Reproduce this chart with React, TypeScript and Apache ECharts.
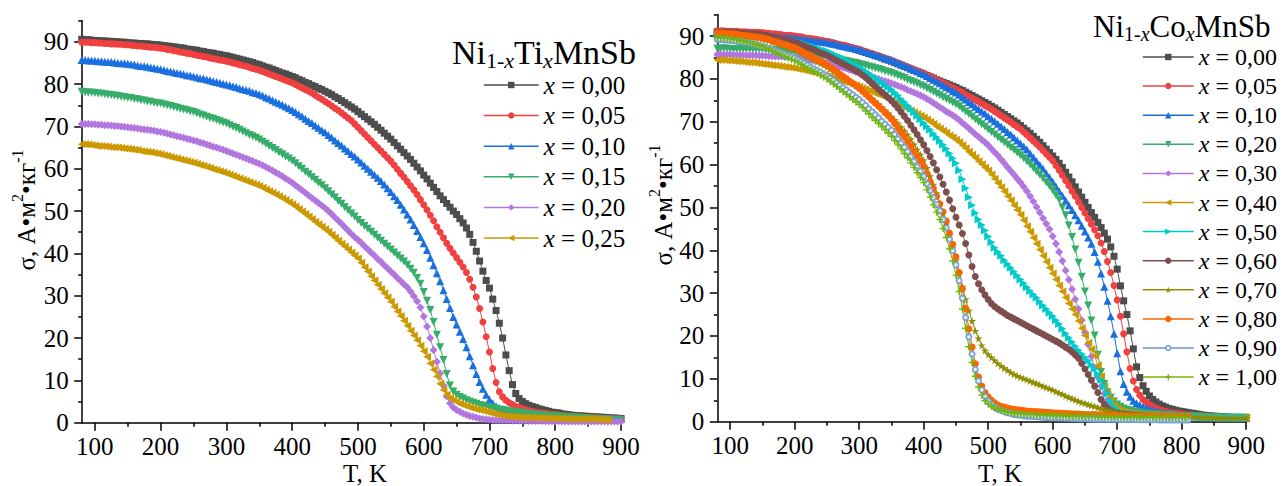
import { useEffect, useRef } from 'react';
import * as echarts from 'echarts';

const FONT = "'Liberation Serif', 'Times New Roman', serif";

// Temperature grid shared by every curve (K)
const TEMPS = [
  80, 85, 90, 95, 100,
  105, 110, 115, 120, 125, 130, 135, 140, 145, 150,
  155, 160, 165, 170, 175, 180, 185, 190, 195, 200,
  205, 210, 215, 220, 225, 230, 235, 240, 245, 250,
  255, 260, 265, 270, 275, 280, 285, 290, 295, 300,
  305, 310, 315, 320, 325, 330, 335, 340, 345, 350,
  355, 360, 365, 370, 375, 380, 385, 390, 395, 400,
  405, 410, 415, 420, 425, 430, 435, 440, 445, 450,
  455, 460, 465, 470, 475, 480, 485, 490, 495, 500,
  505, 510, 515, 520, 525, 530, 535, 540, 545, 550,
  555, 560, 565, 570, 575, 580, 585, 590, 595, 600,
  605, 610, 615, 620, 625, 630, 635, 640, 645, 650,
  655, 660, 665, 670, 675, 680, 685, 690, 695, 700,
  705, 710, 715, 720, 725, 730, 735, 740, 745, 750,
  755, 760, 765, 770, 775, 780, 785, 790, 795, 800,
  805, 810, 815, 820, 825, 830, 835, 840, 845, 850,
  855, 860, 865, 870, 875, 880, 885, 890, 895, 900,
];

const X_MAJOR = [100, 200, 300, 400, 500, 600, 700, 800, 900];
const X_MINOR = [150, 250, 350, 450, 550, 650, 750, 850];
const Y_MAJOR = [0, 10, 20, 30, 40, 50, 60, 70, 80, 90];
const Y_MINOR = [5, 15, 25, 35, 45, 55, 65, 75, 85, 95];

const TI_LABELS = ['0,00', '0,05', '0,10', '0,15', '0,20', '0,25'];
const CO_LABELS = ['0,00', '0,05', '0,10', '0,20', '0,30', '0,40', '0,50', '0,60', '0,70', '0,80', '0,90', '1,00'];

// Ni(1-x)Ti(x)MnSb, sigma in A*m^2/kg
const TI_000 = [
  90.6, 90.5, 90.5, 90.4, 90.3,
  90.3, 90.2, 90.2, 90.1, 90.1, 90.0, 90.0, 89.9, 89.9, 89.8,
  89.7, 89.7, 89.6, 89.6, 89.5, 89.5, 89.4, 89.3, 89.3, 89.2,
  89.1, 89.0, 88.9, 88.8, 88.7, 88.6, 88.5, 88.3, 88.2, 88.1,
  88.0, 87.8, 87.7, 87.5, 87.4, 87.3, 87.1, 87.0, 86.8, 86.7,
  86.5, 86.3, 86.1, 85.9, 85.7, 85.5, 85.3, 85.1, 84.8, 84.6,
  84.3, 84.0, 83.8, 83.5, 83.2, 82.9, 82.6, 82.4, 82.1, 81.8,
  81.5, 81.1, 80.8, 80.4, 80.1, 79.7, 79.4, 79.0, 78.7, 78.3,
  77.9, 77.5, 77.0, 76.6, 76.1, 75.6, 75.1, 74.6, 74.1, 73.5,
  72.9, 72.3, 71.7, 71.1, 70.5, 69.8, 69.1, 68.4, 67.7, 67.0,
  66.2, 65.4, 64.6, 63.8, 63.0, 62.2, 61.3, 60.4, 59.5, 58.5,
  57.6, 56.6, 55.6, 54.6, 53.6, 52.7, 51.8, 50.9, 50.0, 49.2,
  48.2, 47.2, 46.0, 44.5, 42.6, 40.5, 38.2, 35.8, 33.6, 31.8,
  29.2, 26.5, 23.5, 20.0, 16.0, 12.3, 9.0, 6.9, 5.7, 5.0,
  4.5, 4.1, 3.8, 3.6, 3.3, 3.1, 2.9, 2.7, 2.5, 2.4,
  2.3, 2.1, 2.0, 1.9, 1.8, 1.7, 1.65, 1.6, 1.55, 1.5,
  1.45, 1.4, 1.35, 1.3, 1.25, 1.2, 1.15, 1.1, 1.05, 1.0,
];
const TI_005 = [
  89.9, 89.9, 89.9, 89.8, 89.8,
  89.7, 89.7, 89.6, 89.6, 89.5, 89.5, 89.4, 89.4, 89.3, 89.3,
  89.2, 89.1, 89.0, 89.0, 88.9, 88.8, 88.7, 88.7, 88.6, 88.5,
  88.4, 88.2, 88.1, 87.9, 87.8, 87.6, 87.5, 87.3, 87.2, 87.0,
  86.8, 86.7, 86.5, 86.4, 86.2, 86.0, 85.9, 85.7, 85.6, 85.4,
  85.2, 85.0, 84.8, 84.6, 84.4, 84.2, 84.0, 83.7, 83.5, 83.3,
  83.0, 82.7, 82.4, 82.1, 81.8, 81.5, 81.2, 80.9, 80.6, 80.3,
  79.9, 79.5, 79.1, 78.7, 78.3, 77.9, 77.4, 76.9, 76.4, 75.9,
  75.4, 74.9, 74.3, 73.8, 73.2, 72.6, 72.0, 71.4, 70.6, 69.8,
  69.0, 68.2, 67.4, 66.6, 65.8, 65.0, 64.2, 63.4, 62.6, 61.8,
  60.9, 59.9, 58.9, 58.0, 57.0, 56.0, 55.0, 53.9, 52.7, 51.5,
  50.3, 49.0, 47.7, 46.3, 45.0, 43.7, 42.4, 41.2, 40.1, 39.0,
  37.9, 36.8, 35.5, 33.9, 32.0, 29.7, 27.0, 23.8, 20.3, 16.7,
  12.8, 9.5, 7.3, 6.1, 5.3, 4.7, 4.3, 3.9, 3.6, 3.3,
  3.1, 2.9, 2.7, 2.5, 2.4, 2.3, 2.2, 2.1, 2.0, 1.9,
  1.8, 1.7, 1.65, 1.6, 1.55, 1.5, 1.45, 1.4, 1.35, 1.3,
  1.25, 1.2, 1.15, 1.1, 1.05, 1.0, 1.0, 0.95, 0.95, 0.9,
];
const TI_010 = [
  85.7, 85.7, 85.6, 85.6, 85.5,
  85.4, 85.4, 85.3, 85.2, 85.2, 85.1, 85.0, 84.9, 84.9, 84.8,
  84.7, 84.6, 84.4, 84.3, 84.2, 84.1, 83.9, 83.8, 83.6, 83.5,
  83.3, 83.1, 83.0, 82.8, 82.6, 82.5, 82.3, 82.1, 82.0, 81.8,
  81.6, 81.4, 81.3, 81.1, 80.9, 80.7, 80.5, 80.3, 80.1, 79.9,
  79.7, 79.5, 79.3, 79.0, 78.8, 78.6, 78.4, 78.1, 77.9, 77.6,
  77.3, 76.9, 76.6, 76.2, 75.8, 75.5, 75.1, 74.7, 74.3, 73.9,
  73.4, 72.9, 72.4, 71.8, 71.3, 70.8, 70.2, 69.7, 69.1, 68.6,
  68.0, 67.4, 66.7, 66.1, 65.5, 64.8, 64.2, 63.5, 62.9, 62.2,
  61.5, 60.7, 60.0, 59.3, 58.6, 57.9, 57.1, 56.3, 55.4, 54.5,
  53.5, 52.6, 51.5, 50.4, 49.2, 48.0, 46.7, 45.3, 43.9, 42.4,
  40.8, 39.0, 37.2, 35.3, 33.4, 31.3, 29.2, 27.1, 25.0, 23.2,
  21.5, 19.8, 17.8, 15.7, 13.6, 11.5, 9.6, 8.0, 6.6, 5.5,
  4.6, 3.9, 3.4, 3.0, 2.7, 2.5, 2.4, 2.2, 2.1, 2.0,
  1.95, 1.9, 1.85, 1.8, 1.7, 1.65, 1.6, 1.55, 1.5, 1.45,
  1.4, 1.4, 1.35, 1.3, 1.3, 1.25, 1.2, 1.2, 1.15, 1.1,
  1.1, 1.05, 1.05, 1.0, 1.0, 0.95, 0.95, 0.9, 0.9, 0.9,
];
const TI_015 = [
  78.2, 78.1, 78.0, 78.0, 77.9,
  77.8, 77.7, 77.6, 77.5, 77.4, 77.3, 77.2, 77.0, 76.9, 76.8,
  76.7, 76.5, 76.4, 76.2, 76.1, 75.9, 75.8, 75.6, 75.5, 75.4,
  75.2, 75.0, 74.8, 74.6, 74.4, 74.2, 74.0, 73.8, 73.6, 73.4,
  73.1, 72.8, 72.6, 72.3, 72.0, 71.8, 71.5, 71.2, 70.9, 70.7,
  70.3, 69.9, 69.6, 69.2, 68.8, 68.4, 68.0, 67.7, 67.3, 66.9,
  66.4, 65.9, 65.4, 64.9, 64.4, 63.9, 63.4, 62.9, 62.4, 61.9,
  61.3, 60.6, 60.0, 59.3, 58.7, 58.0, 57.4, 56.7, 56.1, 55.4,
  54.7, 53.9, 53.2, 52.4, 51.7, 50.9, 50.2, 49.4, 48.7, 47.9,
  47.2, 46.5, 45.8, 45.1, 44.4, 43.7, 43.0, 42.3, 41.6, 40.9,
  40.2, 39.5, 38.8, 38.1, 37.3, 36.4, 35.4, 34.2, 32.8, 30.9,
  28.8, 26.6, 23.8, 20.8, 17.8, 14.8, 11.5, 8.8, 7.4, 6.6,
  6.1, 5.7, 5.3, 5.0, 4.7, 4.5, 4.2, 4.0, 3.8, 3.6,
  3.5, 3.3, 3.1, 3.0, 2.8, 2.7, 2.6, 2.5, 2.4, 2.3,
  2.2, 2.1, 2.0, 1.9, 1.8, 1.8, 1.7, 1.6, 1.6, 1.5,
  1.45, 1.4, 1.35, 1.3, 1.25, 1.2, 1.15, 1.1, 1.05, 1.0,
  0.95, 0.9, 0.85, 0.8, 0.8, 0.75, 0.7, 0.7, 0.65, 0.6,
];
const TI_020 = [
  70.6, 70.6, 70.6, 70.5, 70.5,
  70.4, 70.4, 70.3, 70.3, 70.2, 70.1, 70.1, 70.0, 69.9, 69.8,
  69.7, 69.6, 69.5, 69.4, 69.3, 69.2, 69.1, 69.0, 68.8, 68.7,
  68.5, 68.3, 68.1, 67.9, 67.7, 67.5, 67.3, 67.1, 66.9, 66.7,
  66.5, 66.2, 66.0, 65.7, 65.5, 65.2, 65.0, 64.7, 64.5, 64.2,
  63.9, 63.6, 63.3, 63.0, 62.7, 62.4, 62.1, 61.8, 61.5, 61.2,
  60.8, 60.4, 60.0, 59.6, 59.1, 58.7, 58.2, 57.7, 57.2, 56.7,
  56.1, 55.5, 54.9, 54.3, 53.7, 53.1, 52.5, 51.9, 51.3, 50.7,
  50.0, 49.3, 48.5, 47.8, 47.0, 46.2, 45.4, 44.6, 43.9, 43.2,
  42.5, 41.7, 41.0, 40.2, 39.5, 38.7, 38.0, 37.2, 36.5, 35.7,
  35.0, 34.2, 33.5, 32.7, 32.0, 31.0, 29.9, 28.7, 27.2, 25.1,
  22.7, 20.0, 17.2, 14.4, 11.7, 8.8, 6.2, 4.6, 3.6, 3.0,
  2.6, 2.2, 1.9, 1.6, 1.4, 1.2, 1.0, 0.9, 0.8, 0.7,
  0.65, 0.6, 0.6, 0.55, 0.55, 0.5, 0.5, 0.5, 0.45, 0.45,
  0.45, 0.4, 0.4, 0.4, 0.4, 0.4, 0.35, 0.35, 0.35, 0.35,
  0.35, 0.35, 0.3, 0.3, 0.3, 0.3, 0.3, 0.3, 0.3, 0.3,
  0.3, 0.3, 0.3, 0.3, 0.3, 0.3, 0.3, 0.3, 0.3, 0.3,
];
const TI_025 = [
  65.8, 65.8, 65.7, 65.6, 65.5,
  65.4, 65.4, 65.3, 65.2, 65.1, 65.1, 65.0, 64.9, 64.8, 64.7,
  64.6, 64.5, 64.4, 64.2, 64.1, 64.0, 63.9, 63.7, 63.6, 63.4,
  63.2, 63.0, 62.8, 62.6, 62.4, 62.2, 62.0, 61.8, 61.6, 61.4,
  61.2, 60.9, 60.7, 60.4, 60.2, 59.9, 59.7, 59.4, 59.2, 58.9,
  58.6, 58.3, 58.0, 57.7, 57.4, 57.1, 56.8, 56.5, 56.2, 55.9,
  55.5, 55.1, 54.7, 54.3, 53.9, 53.5, 53.0, 52.6, 52.1, 51.6,
  51.1, 50.5, 49.9, 49.3, 48.7, 48.1, 47.5, 46.9, 46.3, 45.7,
  45.1, 44.4, 43.7, 43.0, 42.3, 41.6, 40.9, 40.2, 39.5, 38.8,
  37.8, 36.7, 35.7, 34.6, 33.6, 32.6, 31.6, 30.6, 29.6, 28.6,
  27.4, 26.3, 25.2, 24.1, 22.9, 21.7, 20.6, 19.5, 18.2, 16.9,
  15.6, 14.0, 12.5, 10.9, 9.2, 7.7, 6.6, 5.8, 5.3, 4.9,
  4.5, 4.2, 3.9, 3.6, 3.4, 3.2, 3.0, 2.8, 2.6, 2.4,
  2.2, 2.0, 1.9, 1.7, 1.6, 1.5, 1.4, 1.4, 1.3, 1.3,
  1.25, 1.2, 1.2, 1.15, 1.1, 1.1, 1.1, 1.05, 1.05, 1.0,
  1.0, 1.0, 0.95, 0.95, 0.9, 0.9, 0.9, 0.9, 0.85, 0.85,
  0.8, 0.8, 0.75, 0.75, 0.7, 0.7, null, null, null, null,
];

// Ni(1-x)Co(x)MnSb, sigma in A*m^2/kg
const CO_000 = [
  91.0, 91.0, 91.0, 90.9, 90.9,
  90.9, 90.9, 90.8, 90.8, 90.8, 90.7, 90.7, 90.7, 90.6, 90.6,
  90.5, 90.4, 90.3, 90.3, 90.2, 90.1, 90.0, 90.0, 89.9, 89.8,
  89.7, 89.6, 89.4, 89.3, 89.2, 89.1, 89.0, 88.8, 88.7, 88.6,
  88.4, 88.2, 88.0, 87.8, 87.7, 87.5, 87.3, 87.1, 86.9, 86.7,
  86.4, 86.2, 85.9, 85.7, 85.4, 85.2, 84.9, 84.6, 84.4, 84.1,
  83.8, 83.5, 83.2, 82.9, 82.6, 82.3, 82.0, 81.7, 81.4, 81.1,
  80.8, 80.5, 80.2, 79.8, 79.5, 79.2, 78.9, 78.6, 78.3, 78.0,
  77.6, 77.3, 76.9, 76.5, 76.1, 75.7, 75.3, 74.9, 74.5, 74.1,
  73.6, 73.2, 72.7, 72.2, 71.7, 71.2, 70.7, 70.2, 69.7, 69.1,
  68.5, 67.9, 67.3, 66.6, 65.9, 65.2, 64.4, 63.6, 62.8, 62.0,
  61.2, 60.3, 59.3, 58.2, 57.1, 56.0, 54.8, 53.6, 52.4, 51.2,
  50.0, 48.8, 47.7, 46.5, 45.3, 44.0, 42.6, 40.8, 38.6, 35.6,
  31.7, 28.2, 25.0, 21.2, 17.0, 12.8, 10.3, 8.4, 7.1, 6.0,
  5.2, 4.6, 4.1, 3.7, 3.4, 3.1, 2.9, 2.7, 2.5, 2.4,
  2.25, 2.1, 2.0, 1.9, 1.75, 1.6, 1.5, 1.4, 1.35, 1.3,
  1.25, 1.2, 1.15, 1.1, 1.05, 1.0, 1.0, 0.95, 0.95, 0.9,
];
const CO_005 = [
  91.2, 91.2, 91.2, 91.1, 91.1,
  91.1, 91.1, 91.0, 91.0, 91.0, 90.9, 90.9, 90.9, 90.8, 90.8,
  90.7, 90.6, 90.5, 90.5, 90.4, 90.3, 90.2, 90.2, 90.1, 90.0,
  89.9, 89.8, 89.6, 89.5, 89.4, 89.3, 89.2, 89.0, 88.9, 88.8,
  88.6, 88.4, 88.2, 88.0, 87.9, 87.7, 87.5, 87.3, 87.1, 86.9,
  86.6, 86.4, 86.1, 85.9, 85.6, 85.4, 85.1, 84.8, 84.6, 84.3,
  84.0, 83.7, 83.4, 83.1, 82.8, 82.5, 82.2, 81.9, 81.6, 81.3,
  80.9, 80.6, 80.2, 79.8, 79.4, 79.1, 78.7, 78.3, 77.9, 77.6,
  77.2, 76.8, 76.3, 75.9, 75.5, 75.1, 74.7, 74.2, 73.8, 73.4,
  72.9, 72.4, 71.9, 71.4, 70.9, 70.4, 69.9, 69.3, 68.8, 68.3,
  67.6, 66.9, 66.2, 65.5, 64.8, 64.1, 63.3, 62.5, 61.7, 60.9,
  59.8, 58.7, 57.5, 56.3, 55.1, 53.8, 52.6, 51.3, 50.0, 48.7,
  47.4, 46.1, 44.8, 43.4, 41.7, 39.7, 37.4, 34.8, 31.8, 28.4,
  24.6, 20.5, 16.3, 12.4, 9.5, 7.5, 6.2, 5.2, 4.5, 4.0,
  3.6, 3.2, 2.9, 2.6, 2.4, 2.2, 2.1, 2.0, 1.9, 1.8,
  1.7, 1.6, 1.55, 1.5, 1.45, 1.4, 1.35, 1.3, 1.25, 1.2,
  1.15, 1.1, 1.05, 1.05, 1.0, 1.0, 0.95, 0.95, 0.9, 0.9,
];
const CO_010 = [
  90.6, 90.6, 90.5, 90.5, 90.4,
  90.4, 90.4, 90.3, 90.3, 90.3, 90.2, 90.2, 90.2, 90.1, 90.1,
  90.0, 90.0, 89.9, 89.9, 89.8, 89.8, 89.7, 89.6, 89.6, 89.5,
  89.4, 89.3, 89.2, 89.1, 89.0, 88.9, 88.8, 88.7, 88.6, 88.5,
  88.3, 88.2, 88.0, 87.8, 87.7, 87.5, 87.3, 87.2, 87.0, 86.8,
  86.6, 86.3, 86.1, 85.8, 85.6, 85.4, 85.1, 84.9, 84.6, 84.4,
  84.1, 83.7, 83.4, 83.1, 82.8, 82.4, 82.1, 81.8, 81.4, 81.1,
  80.7, 80.2, 79.8, 79.4, 79.0, 78.5, 78.1, 77.7, 77.2, 76.8,
  76.3, 75.7, 75.2, 74.6, 74.1, 73.5, 73.0, 72.4, 71.9, 71.3,
  70.7, 70.1, 69.5, 68.9, 68.3, 67.6, 67.0, 66.3, 65.6, 64.9,
  64.2, 63.5, 62.6, 61.7, 60.8, 59.9, 59.0, 58.0, 57.0, 56.0,
  54.9, 53.8, 52.7, 51.6, 50.5, 49.4, 48.2, 47.0, 45.7, 44.4,
  43.0, 41.5, 39.6, 37.3, 34.6, 31.5, 28.2, 24.6, 20.5, 16.0,
  11.8, 8.8, 7.0, 5.8, 4.9, 4.3, 3.9, 3.5, 3.2, 2.9,
  2.7, 2.5, 2.3, 2.1, 2.0, 1.9, 1.8, 1.7, 1.6, 1.55,
  1.5, 1.45, 1.4, 1.35, 1.3, 1.25, 1.2, 1.2, 1.15, 1.1,
  1.1, 1.05, 1.05, 1.0, 1.0, 0.95, 0.95, 0.9, 0.9, 0.9,
];
const CO_020 = [
  87.1, 87.1, 87.1, 87.1, 87.0,
  87.0, 87.0, 87.0, 87.0, 87.0, 87.0, 86.9, 86.9, 86.9, 86.9,
  86.8, 86.8, 86.7, 86.7, 86.6, 86.6, 86.5, 86.4, 86.4, 86.3,
  86.2, 86.1, 85.9, 85.8, 85.7, 85.6, 85.5, 85.3, 85.2, 85.1,
  85.0, 84.8, 84.7, 84.5, 84.3, 84.2, 84.0, 83.8, 83.7, 83.5,
  83.3, 83.1, 82.9, 82.7, 82.5, 82.3, 82.1, 81.8, 81.6, 81.4,
  81.1, 80.8, 80.5, 80.2, 79.8, 79.5, 79.2, 78.9, 78.5, 78.2,
  77.8, 77.4, 77.0, 76.6, 76.2, 75.7, 75.3, 74.9, 74.5, 74.1,
  73.6, 73.0, 72.4, 71.8, 71.2, 70.6, 70.0, 69.4, 68.8, 68.2,
  67.6, 67.0, 66.4, 65.8, 65.2, 64.6, 64.0, 63.4, 62.8, 62.2,
  61.5, 60.8, 60.0, 59.2, 58.4, 57.6, 56.8, 55.9, 55.0, 54.0,
  52.9, 51.8, 50.0, 48.2, 45.8, 43.1, 40.2, 37.1, 33.8, 30.4,
  27.1, 23.6, 20.1, 15.6, 11.6, 8.8, 6.9, 5.6, 4.7, 4.0,
  3.5, 3.1, 2.8, 2.6, 2.4, 2.3, 2.1, 2.0, 1.9, 1.8,
  1.75, 1.7, 1.65, 1.6, 1.55, 1.5, 1.45, 1.4, 1.35, 1.3,
  1.25, 1.25, 1.2, 1.2, 1.15, 1.15, 1.1, 1.1, 1.05, 1.05,
  1.0, 1.0, 1.0, 0.95, 0.95, 0.95, 0.9, 0.9, 0.9, 0.9,
];
const CO_030 = [
  85.7, 85.7, 85.7, 85.7, 85.7,
  85.6, 85.6, 85.6, 85.6, 85.5, 85.5, 85.5, 85.5, 85.4, 85.4,
  85.4, 85.3, 85.3, 85.2, 85.2, 85.2, 85.1, 85.1, 85.0, 85.0,
  84.9, 84.8, 84.6, 84.5, 84.4, 84.3, 84.2, 84.0, 83.9, 83.8,
  83.6, 83.3, 83.1, 82.8, 82.6, 82.4, 82.1, 81.9, 81.6, 81.4,
  81.2, 80.9, 80.7, 80.4, 80.2, 80.0, 79.7, 79.5, 79.2, 79.0,
  78.7, 78.4, 78.1, 77.8, 77.4, 77.1, 76.8, 76.5, 76.1, 75.8,
  75.3, 74.9, 74.4, 73.9, 73.4, 72.9, 72.4, 72.0, 71.5, 71.0,
  70.4, 69.7, 69.1, 68.4, 67.8, 67.1, 66.5, 65.8, 65.2, 64.5,
  63.7, 62.9, 62.1, 61.2, 60.3, 59.4, 58.5, 57.6, 56.7, 55.8,
  54.8, 53.8, 52.6, 51.4, 50.1, 48.8, 47.5, 46.2, 44.9, 43.3,
  41.5, 39.6, 37.5, 35.3, 33.1, 30.9, 28.6, 26.3, 23.7, 20.9,
  18.0, 15.2, 12.6, 10.3, 8.3, 6.5, 5.0, 4.0, 3.2, 2.7,
  2.4, 2.2, 2.0, 1.9, 1.8, 1.75, 1.7, 1.6, 1.55, 1.5,
  1.45, 1.4, 1.4, 1.35, 1.3, 1.3, 1.25, 1.2, 1.2, 1.15,
  1.1, 1.1, 1.05, 1.05, 1.0, 1.0, 1.0, 0.95, 0.95, 0.95,
  0.95, 0.9, 0.9, 0.9, 0.9, 0.9, 0.9, 0.9, 0.9, 0.9,
];
const CO_040 = [
  84.4, 84.4, 84.4, 84.3, 84.3,
  84.2, 84.1, 84.1, 84.0, 83.9, 83.8, 83.8, 83.7, 83.6, 83.5,
  83.4, 83.3, 83.2, 83.1, 83.0, 82.9, 82.8, 82.7, 82.6, 82.5,
  82.3, 82.2, 82.0, 81.8, 81.6, 81.5, 81.3, 81.1, 80.9, 80.6,
  80.4, 80.2, 79.9, 79.7, 79.4, 79.2, 79.0, 78.7, 78.5, 78.2,
  77.9, 77.6, 77.3, 77.0, 76.6, 76.3, 76.0, 75.7, 75.3, 75.0,
  74.6, 74.2, 73.8, 73.4, 73.0, 72.6, 72.2, 71.8, 71.4, 71.0,
  70.5, 70.0, 69.5, 68.9, 68.4, 67.9, 67.4, 66.8, 66.3, 65.8,
  65.2, 64.5, 63.8, 63.0, 62.3, 61.6, 60.8, 60.1, 59.3, 58.6,
  57.7, 56.7, 55.7, 54.7, 53.7, 52.6, 51.6, 50.5, 49.4, 48.3,
  47.0, 45.6, 44.3, 42.9, 41.5, 40.1, 38.7, 37.3, 35.9, 34.6,
  33.2, 31.8, 30.4, 29.0, 27.6, 26.3, 25.0, 23.5, 21.8, 20.1,
  18.4, 16.9, 15.4, 13.2, 10.6, 8.2, 6.4, 4.9, 3.8, 3.1,
  2.7, 2.4, 2.2, 2.0, 1.9, 1.8, 1.75, 1.7, 1.65, 1.6,
  1.55, 1.5, 1.45, 1.4, 1.4, 1.35, 1.3, 1.3, 1.25, 1.2,
  1.2, 1.15, 1.15, 1.1, 1.1, 1.05, 1.05, 1.0, 1.0, 1.0,
  0.95, 0.95, 0.95, 0.95, 0.9, 0.9, 0.9, 0.9, 0.9, 0.9,
];
const CO_050 = [
  90.6, 90.6, 90.6, 90.5, 90.5,
  90.5, 90.4, 90.4, 90.3, 90.3, 90.2, 90.2, 90.1, 90.1, 90.0,
  89.9, 89.8, 89.7, 89.6, 89.4, 89.3, 89.2, 89.1, 88.9, 88.8,
  88.6, 88.4, 88.2, 87.9, 87.7, 87.5, 87.2, 87.0, 86.7, 86.5,
  86.2, 85.8, 85.5, 85.1, 84.8, 84.4, 84.0, 83.6, 83.2, 82.8,
  82.3, 81.8, 81.3, 80.8, 80.3, 79.7, 79.2, 78.6, 78.1, 77.5,
  76.8, 76.1, 75.3, 74.6, 73.8, 73.0, 72.2, 71.4, 70.6, 69.7,
  68.9, 68.1, 67.2, 66.4, 65.5, 64.6, 63.7, 62.6, 61.5, 60.3,
  58.6, 56.6, 54.5, 52.4, 50.5, 48.7, 47.2, 45.9, 44.6, 43.2,
  41.9, 40.6, 39.6, 38.7, 37.7, 36.8, 35.9, 35.0, 34.1, 33.2,
  32.3, 31.4, 30.5, 29.7, 28.9, 28.0, 27.1, 26.3, 25.4, 24.6,
  23.7, 22.8, 21.7, 20.6, 19.6, 18.6, 17.6, 16.7, 15.8, 15.0,
  14.2, 13.3, 12.3, 11.1, 9.8, 8.2, 6.5, 4.8, 3.5, 2.8,
  2.3, 2.0, 1.9, 1.8, 1.75, 1.7, 1.65, 1.6, 1.55, 1.5,
  1.45, 1.4, 1.4, 1.35, 1.3, 1.3, 1.25, 1.25, 1.2, 1.2,
  1.2, 1.15, 1.15, 1.1, 1.1, 1.05, 1.05, 1.0, 1.0, 1.0,
  0.95, 0.95, 0.95, 0.95, 0.9, 0.9, 0.9, 0.9, 0.9, 0.9,
];
const CO_060 = [
  90.9, 90.9, 90.9, 90.9, 90.9,
  90.8, 90.8, 90.7, 90.7, 90.6, 90.6, 90.5, 90.5, 90.4, 90.3,
  90.2, 90.0, 89.8, 89.7, 89.5, 89.3, 89.2, 89.0, 88.8, 88.6,
  88.3, 88.0, 87.7, 87.4, 87.1, 86.8, 86.4, 86.1, 85.8, 85.5,
  85.1, 84.7, 84.3, 83.9, 83.5, 83.1, 82.7, 82.3, 81.9, 81.5,
  80.9, 80.3, 79.6, 78.9, 78.3, 77.6, 76.9, 76.3, 75.6, 74.9,
  74.1, 73.2, 72.3, 71.3, 70.3, 69.2, 68.1, 67.0, 65.8, 64.6,
  63.3, 61.9, 60.4, 58.8, 57.1, 55.4, 53.6, 51.7, 49.7, 47.7,
  45.9, 43.9, 41.6, 38.9, 36.2, 33.9, 32.2, 30.8, 29.6, 28.5,
  27.6, 26.9, 26.3, 25.8, 25.3, 24.8, 24.4, 24.0, 23.6, 23.2,
  22.8, 22.4, 22.0, 21.6, 21.2, 20.8, 20.4, 20.0, 19.6, 19.2,
  18.8, 18.4, 17.9, 17.4, 16.9, 16.3, 15.6, 14.8, 13.6, 12.3,
  11.0, 9.7, 8.3, 6.8, 5.2, 4.0, 3.2, 2.6, 2.2, 2.0,
  1.9, 1.8, 1.7, 1.6, 1.55, 1.5, 1.45, 1.4, 1.35, 1.3,
  1.25, 1.2, 1.2, 1.15, 1.1, 1.1, 1.05, 1.05, 1.0, 1.0,
  1.0, 1.0, null, null, null, null, null, null, null, null,
  null, null, null, null, null, null, null, null, null, null,
];
const CO_070 = [
  90.6, 90.6, 90.6, 90.5, 90.5,
  90.4, 90.3, 90.2, 90.1, 90.0, 89.9, 89.8, 89.6, 89.5, 89.3,
  89.1, 88.9, 88.6, 88.4, 88.1, 87.9, 87.6, 87.3, 87.1, 86.8,
  86.4, 86.0, 85.6, 85.2, 84.8, 84.4, 84.0, 83.6, 83.2, 82.8,
  82.3, 81.8, 81.3, 80.8, 80.3, 79.8, 79.3, 78.8, 78.3, 77.8,
  77.2, 76.6, 76.0, 75.4, 74.8, 74.1, 73.4, 72.7, 72.0, 71.2,
  70.4, 69.6, 68.7, 67.9, 67.0, 65.9, 64.7, 63.5, 62.3, 61.0,
  59.2, 57.3, 55.3, 53.3, 51.0, 48.6, 46.0, 43.4, 40.5, 37.6,
  34.6, 31.5, 28.6, 25.9, 23.5, 21.2, 19.4, 17.8, 16.6, 15.7,
  15.0, 14.3, 13.6, 13.0, 12.5, 12.0, 11.5, 11.1, 10.7, 10.4,
  10.1, 9.8, 9.5, 9.2, 8.9, 8.6, 8.3, 8.0, 7.7, 7.4,
  7.0, 6.7, 6.4, 6.0, 5.7, 5.4, 5.1, 4.8, 4.5, 4.3,
  4.0, 3.8, 3.6, 3.3, 3.1, 2.8, 2.6, 2.4, 2.3, 2.1,
  2.0, 1.9, 1.8, 1.75, 1.7, 1.65, 1.6, 1.55, 1.5, 1.5,
  1.45, 1.4, 1.4, 1.35, 1.3, 1.3, 1.25, 1.25, 1.2, 1.2,
  1.2, 1.15, 1.15, 1.1, 1.1, 1.05, 1.05, 1.0, 1.0, 1.0,
  0.95, 0.95, 0.95, 0.95, 0.9, 0.9, 0.9, 0.9, 0.9, 0.9,
];
const CO_080 = [
  90.7, 90.7, 90.7, 90.6, 90.6,
  90.5, 90.4, 90.3, 90.2, 90.1, 90.0, 89.9, 89.8, 89.7, 89.6,
  89.4, 89.2, 88.9, 88.7, 88.5, 88.2, 88.0, 87.8, 87.5, 87.3,
  86.9, 86.5, 86.1, 85.7, 85.3, 84.9, 84.5, 84.1, 83.7, 83.3,
  82.8, 82.2, 81.7, 81.1, 80.6, 80.1, 79.5, 79.0, 78.4, 77.9,
  77.2, 76.5, 75.8, 75.0, 74.3, 73.6, 72.9, 72.1, 71.4, 70.6,
  69.6, 68.5, 67.5, 66.5, 65.4, 64.3, 63.1, 62.0, 60.8, 59.6,
  57.9, 56.1, 54.4, 52.6, 50.8, 49.0, 46.8, 44.0, 41.4, 38.5,
  34.8, 31.0, 26.4, 21.7, 17.4, 13.5, 10.4, 8.3, 6.8, 5.8,
  5.0, 4.4, 3.9, 3.6, 3.4, 3.2, 3.0, 2.9, 2.8, 2.7,
  2.6, 2.5, 2.45, 2.4, 2.35, 2.3, 2.25, 2.2, 2.15, 2.1,
  2.05, 2.0, 1.95, 1.9, 1.9, 1.85, 1.8, 1.8, 1.75, 1.7,
  1.7, 1.65, 1.65, 1.6, 1.6, 1.55, 1.55, 1.5, 1.5, 1.45,
  1.45, 1.4, 1.4, 1.4, 1.35, 1.35, 1.35, 1.3, 1.3, 1.3,
  1.3, 1.25, 1.25, 1.25, 1.2, 1.2, 1.2, 1.2, 1.2, 1.2,
  1.2, 1.2, null, null, null, null, null, null, null, null,
  null, null, null, null, null, null, null, null, null, null,
];
const CO_090 = [
  89.2, 89.2, 89.1, 89.1, 89.0,
  88.9, 88.8, 88.7, 88.6, 88.5, 88.3, 88.2, 88.0, 87.8, 87.6,
  87.4, 87.1, 86.9, 86.6, 86.3, 86.0, 85.7, 85.4, 85.1, 84.8,
  84.4, 84.0, 83.6, 83.2, 82.7, 82.3, 81.9, 81.5, 81.0, 80.6,
  80.1, 79.6, 79.0, 78.5, 77.9, 77.4, 76.8, 76.3, 75.7, 75.2,
  74.5, 73.8, 73.0, 72.3, 71.6, 70.9, 70.1, 69.4, 68.7, 68.0,
  67.0, 66.0, 65.0, 64.0, 63.0, 61.8, 60.7, 59.5, 58.4, 57.2,
  55.6, 54.0, 52.3, 50.7, 49.2, 47.2, 45.2, 42.6, 39.9, 36.6,
  32.9, 28.8, 24.3, 19.8, 15.8, 12.2, 9.5, 7.4, 5.9, 4.8,
  4.0, 3.4, 2.9, 2.6, 2.3, 2.1, 1.9, 1.7, 1.6, 1.5,
  1.4, 1.3, 1.25, 1.2, 1.15, 1.1, 1.05, 1.0, 0.95, 0.9,
  0.9, 0.85, 0.85, 0.8, 0.8, 0.75, 0.75, 0.7, 0.7, 0.7,
  0.65, 0.65, 0.6, 0.6, 0.6, 0.6, 0.55, 0.55, 0.55, 0.55,
  0.5, 0.5, 0.5, 0.5, 0.5, 0.5, 0.45, 0.45, 0.45, 0.45,
  0.45, 0.45, 0.4, 0.4, 0.4, 0.4, 0.4, 0.4, 0.4, 0.4,
  0.4, 0.4, null, null, null, null, null, null, null, null,
  null, null, null, null, null, null, null, null, null, null,
];
const CO_100 = [
  89.6, 89.6, 89.5, 89.5, 89.4,
  89.2, 89.1, 88.9, 88.8, 88.6, 88.4, 88.2, 88.0, 87.8, 87.5,
  87.2, 86.9, 86.5, 86.2, 85.9, 85.6, 85.2, 84.9, 84.5, 84.2,
  83.8, 83.4, 82.9, 82.5, 82.1, 81.7, 81.3, 80.8, 80.4, 80.0,
  79.4, 78.8, 78.2, 77.6, 77.0, 76.4, 75.8, 75.2, 74.6, 74.0,
  73.3, 72.5, 71.8, 71.0, 70.3, 69.6, 68.8, 68.1, 67.3, 66.6,
  65.6, 64.6, 63.6, 62.6, 61.6, 60.4, 59.3, 58.1, 57.0, 55.8,
  54.1, 52.4, 50.6, 48.9, 47.2, 45.1, 43.0, 40.3, 37.5, 34.2,
  30.4, 26.3, 21.8, 17.5, 13.8, 10.6, 8.1, 6.2, 4.9, 4.1,
  3.6, 3.2, 2.9, 2.6, 2.4, 2.2, 2.1, 2.0, 1.9, 1.85,
  1.8, 1.75, 1.7, 1.65, 1.6, 1.6, 1.55, 1.55, 1.5, 1.5,
  1.45, 1.45, 1.4, 1.4, 1.4, 1.35, 1.35, 1.3, 1.3, 1.3,
  1.25, 1.25, 1.25, 1.2, 1.2, 1.2, 1.2, 1.15, 1.15, 1.15,
  1.15, 1.1, 1.1, 1.1, 1.1, 1.1, 1.05, 1.05, 1.05, 1.05,
  1.05, 1.0, 1.0, 1.0, 1.0, 1.0, 1.0, 1.0, 1.0, 1.0,
  1.0, 1.0, null, null, null, null, null, null, null, null,
  null, null, null, null, null, null, null, null, null, null,
];

const TI_VALUES = [TI_000, TI_005, TI_010, TI_015, TI_020, TI_025];
const CO_VALUES = [CO_000, CO_005, CO_010, CO_020, CO_030, CO_040, CO_050, CO_060, CO_070, CO_080, CO_090, CO_100];

const STAR = 'path://M50,0L61.2,34.5L97.6,34.5L68.2,55.9L79.4,90.5L50,69.1L20.6,90.5L31.8,55.9L2.4,34.5L38.8,34.5Z';
const PLUS = 'path://M4,0H6V4H10V6H6V10H4V6H0V4H4Z';

type Marker = { color: string; symbol: string; size: number; rotate?: number; fill?: any };

const SPHERE_FILL = {
  type: 'radial', x: 0.5, y: 0.5, r: 0.5,
  colorStops: [
    { offset: 0, color: '#ffffff' },
    { offset: 0.3, color: '#f2f6fb' },
    { offset: 0.55, color: '#8fb0d6' },
    { offset: 1, color: '#6699cc' },
  ],
};

const TI_MARKERS: Marker[] = [
  { color: '#4d4d4d', symbol: 'rect', size: 7 },
  { color: '#f14040', symbol: 'circle', size: 7 },
  { color: '#1a6fdf', symbol: 'triangle', size: 8 },
  { color: '#37ad6b', symbol: 'triangle', size: 8, rotate: 180 },
  { color: '#b177de', symbol: 'diamond', size: 8 },
  { color: '#cc9900', symbol: 'triangle', size: 8, rotate: 90 },
];

const CO_MARKERS: Marker[] = [
  { color: '#4d4d4d', symbol: 'rect', size: 7 },
  { color: '#f14040', symbol: 'circle', size: 7 },
  { color: '#1a6fdf', symbol: 'triangle', size: 8 },
  { color: '#37ad6b', symbol: 'triangle', size: 8, rotate: 180 },
  { color: '#b177de', symbol: 'diamond', size: 8 },
  { color: '#cc9900', symbol: 'triangle', size: 8, rotate: 90 },
  { color: '#00cbcc', symbol: 'triangle', size: 8, rotate: -90 },
  { color: '#7d4e4e', symbol: 'circle', size: 7 },
  { color: '#8e8e00', symbol: STAR, size: 8 },
  { color: '#fb6501', symbol: 'circle', size: 7 },
  { color: '#6699cc', symbol: 'circle', size: 7, fill: SPHERE_FILL },
  { color: '#6fb802', symbol: PLUS, size: 7 },
];

const toPairs = (vals: (number | null)[]) =>
  TEMPS.map((t, i) => [t, vals[i]]).filter((p) => p[1] !== null && p[1] !== undefined);

const buildSeries = (prefix: string, labels: string[], values: (number | null)[][], markers: Marker[], axis: number) =>
  labels.map((lab, i) => {
    const m = markers[i];
    return {
      type: 'line',
      name: `${prefix} ${lab}`,
      xAxisIndex: axis,
      yAxisIndex: axis,
      data: toPairs(values[i]),
      symbol: m.symbol,
      symbolSize: m.size,
      symbolRotate: m.rotate ?? 0,
      showSymbol: true,
      lineStyle: { color: m.color, width: 1 },
      itemStyle: { color: m.fill ?? m.color },
      emphasis: { disabled: true },
      silent: true,
    };
  });

const majorX = (grid: number) => ({
  type: 'value',
  gridIndex: grid,
  min: 80,
  max: 900,
  position: 'bottom',
  splitLine: { show: false },
  axisLine: { show: true, onZero: false, lineStyle: { color: '#000', width: 1.5 } },
  axisTick: { show: true, customValues: X_MAJOR, length: 8, lineStyle: { color: '#000', width: 1.5 } },
  axisLabel: { show: true, customValues: X_MAJOR, margin: 11, fontSize: 25, fontFamily: FONT, color: '#000' },
});
const minorX = (grid: number) => ({
  type: 'value',
  gridIndex: grid,
  min: 80,
  max: 900,
  position: 'bottom',
  splitLine: { show: false },
  axisLine: { show: false, onZero: false },
  axisTick: { show: true, customValues: X_MINOR, length: 4, lineStyle: { color: '#000', width: 1.5 } },
  axisLabel: { show: false },
});
const majorY = (grid: number) => ({
  type: 'value',
  gridIndex: grid,
  min: 0,
  max: 95,
  position: 'left',
  splitLine: { show: false },
  axisLine: { show: true, onZero: false, lineStyle: { color: '#000', width: 1.5 } },
  axisTick: { show: true, customValues: Y_MAJOR, length: 7.5, lineStyle: { color: '#000', width: 1.5 } },
  axisLabel: { show: true, customValues: Y_MAJOR, margin: 13, fontSize: 25, fontFamily: FONT, color: '#000' },
});
const minorY = (grid: number) => ({
  type: 'value',
  gridIndex: grid,
  min: 0,
  max: 95,
  position: 'left',
  splitLine: { show: false },
  axisLine: { show: false, onZero: false },
  axisTick: { show: true, customValues: Y_MINOR, length: 3.5, lineStyle: { color: '#000', width: 1.5 } },
  axisLabel: { show: false },
});

const legendFor = (prefix: string, labels: string[], left: number, top: number, itemWidth: number, fontSize: number, gap: number) => ({
  show: true,
  orient: 'vertical',
  left,
  top,
  padding: 0,
  itemWidth,
  itemHeight: 8,
  itemGap: gap,
  selectedMode: false,
  data: labels.map((l) => `${prefix} ${l}`),
  lineStyle: { width: 1.5 },
  formatter: (name: string) => `{i|x} = ${name.split(' ')[1]}`,
  textStyle: {
    fontFamily: FONT,
    fontSize,
    lineHeight: fontSize,
    color: '#000',
    rich: { i: { fontFamily: FONT, fontSize, lineHeight: fontSize, fontStyle: 'italic', color: '#000' } },
  },
});

const titleRich = (main: number, sub: number, line: number) => ({
  m: { fontFamily: FONT, fontSize: main, lineHeight: line, fill: '#000' },
  s: { fontFamily: FONT, fontSize: sub, lineHeight: sub, verticalAlign: 'bottom', fill: '#000' },
  si: { fontFamily: FONT, fontSize: sub, lineHeight: sub, verticalAlign: 'bottom', fontStyle: 'italic', fill: '#000' },
});

const unitRich = {
  n: { fontFamily: FONT, fontSize: 25, lineHeight: 34, fill: '#000' },
  p: { fontFamily: FONT, fontSize: 16, lineHeight: 16, verticalAlign: 'top', fill: '#000' },
};

const SIGMA_TEXT = '{n|σ, А•м}{p|2}{n|•кг}{p|-1}';

const option = {
  animation: false,
  backgroundColor: '#ffffff',
  grid: [
    { left: 81.7, top: 20.6, width: 539.3, height: 402.1 },
    { left: 717.3, top: 14.6, width: 528.9, height: 407.1 },
  ],
  xAxis: [majorX(0), minorX(0), majorX(1), minorX(1)],
  yAxis: [majorY(0), minorY(0), majorY(1), minorY(1)],
  legend: [
    legendFor('Ti', TI_LABELS, 483, 72.5, 55, 25, 5.6),
    legendFor('Co', CO_LABELS, 1142, 45, 51, 24, 5.1),
  ],
  graphic: [
    {
      type: 'text', x: 452, y: 33.3, silent: true,
      style: { text: '{m|Ni}{s|1-}{si|x}{m|Ti}{si|x}{m|MnSb}', rich: titleRich(34, 22, 38), align: 'left', verticalAlign: 'top', fill: '#000' },
    },
    {
      type: 'text', x: 1093, y: 8.2, silent: true,
      style: { text: '{m|Ni}{s|1-}{si|x}{m|Co}{si|x}{m|MnSb}', rich: titleRich(31, 20, 36), align: 'left', verticalAlign: 'top', fill: '#000' },
    },
    {
      type: 'text', x: 365, y: 473, silent: true,
      style: { text: 'T, K', fontFamily: FONT, fontSize: 25, fill: '#000', align: 'center', verticalAlign: 'middle' },
    },
    {
      type: 'text', x: 1000, y: 473, silent: true,
      style: { text: 'T, K', fontFamily: FONT, fontSize: 25, fill: '#000', align: 'center', verticalAlign: 'middle' },
    },
    {
      type: 'text', x: 26, y: 210, rotation: Math.PI / 2, silent: true,
      style: { text: SIGMA_TEXT, rich: unitRich, align: 'center', verticalAlign: 'middle', fill: '#000' },
    },
    {
      type: 'text', x: 663, y: 205, rotation: Math.PI / 2, silent: true,
      style: { text: SIGMA_TEXT, rich: unitRich, align: 'center', verticalAlign: 'middle', fill: '#000' },
    },
  ],
  series: [
    ...buildSeries('Ti', TI_LABELS, TI_VALUES, TI_MARKERS, 0),
    ...buildSeries('Co', CO_LABELS, CO_VALUES, CO_MARKERS, 2),
  ],
};

export default function App() {
  const ref = useRef<HTMLDivElement>(null);
  useEffect(() => {
    if (!ref.current) return;
    const chart = echarts.init(ref.current, undefined, { renderer: 'svg' });
    chart.setOption(option as any);
    return () => chart.dispose();
  }, []);
  return (
    <div
      ref={ref}
      style={{ position: 'fixed', left: 0, top: 0, width: 1283, height: 486, background: '#ffffff' }}
    />
  );
}
